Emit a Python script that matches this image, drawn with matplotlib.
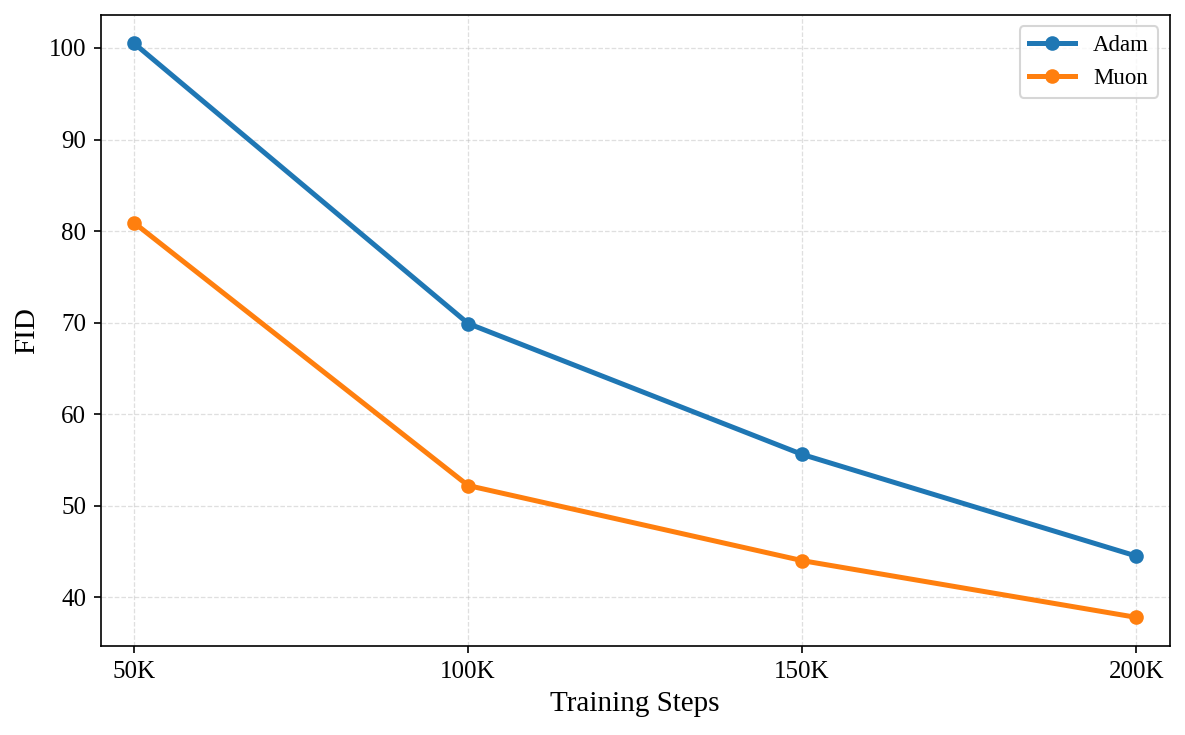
import matplotlib
matplotlib.use("Agg")
import matplotlib.pyplot as plt

# данные
steps = [50, 100, 150, 200]
step_labels = ['50K', '100K', '150K', '200K']
adam_fid = [100.5, 69.9, 55.6, 44.5]
muon_fid = [80.9, 52.2, 44.0, 37.8]

plt.rcParams['font.family'] = ['Liberation Serif', 'DejaVu Serif']

fig, ax = plt.subplots(figsize=(7.9, 4.9), dpi=150)
ax.plot(steps, adam_fid, marker='o', markersize=6, linewidth=2.4, color='#1f77b4', label='Adam')
ax.plot(steps, muon_fid, marker='o', markersize=6, linewidth=2.4, color='#ff7f0e', label='Muon')
ax.set_xticks(steps)
ax.set_xticklabels(step_labels)
ax.set_xlim(45, 205)
ax.set_xlabel('Training Steps', fontsize=14)
ax.set_ylabel('FID', fontsize=14)
ax.tick_params(labelsize=12)
ax.grid(True, linestyle='--', alpha=0.4, linewidth=0.6)
ax.legend(fontsize=11)
fig.subplots_adjust(left=0.085, right=0.987, top=0.98, bottom=0.121)
plt.savefig('out.png', dpi=150)
